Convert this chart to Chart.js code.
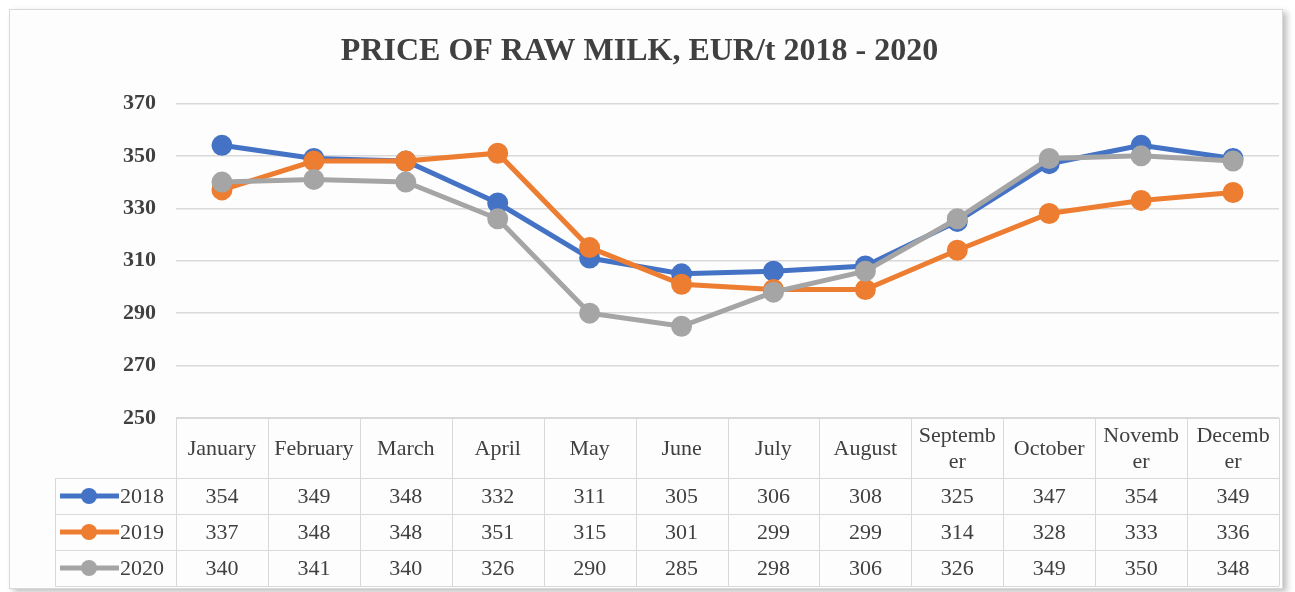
<!DOCTYPE html>
<html>
<head>
<meta charset="utf-8">
<script src="https://cdn.jsdelivr.net/npm/chart.js@4.4.1/dist/chart.umd.min.js"></script>
<style>
  body { margin: 0; background: #ffffff; }
  .wrap { position: relative; width: 1295px; height: 592px; overflow: hidden; }
  .frame {
    position: absolute; left: 9px; top: 9px; width: 1272px; height: 578px;
    border: 1px solid #d9d9d9; background: #fdfdfd;
    box-shadow: 4px 3px 6px rgba(0,0,0,0.25);
  }
  canvas { position: absolute; left: 0; top: 0; }
</style>
</head>
<body>
<div class="wrap">
  <div class="frame"></div>
  <canvas id="milkChart" width="1295" height="592"></canvas>
</div>
<script>
// Data
const months = ['January', 'February', 'March', 'April', 'May', 'June', 'July', 'August', 'September', 'October', 'November', 'December'];
const years = ['2018', '2019', '2020'];
const price2018 = [354, 349, 348, 332, 311, 305, 306, 308, 325, 347, 354, 349];
const price2019 = [337, 348, 348, 351, 315, 301, 299, 299, 314, 328, 333, 336];
const price2020 = [340, 341, 340, 326, 290, 285, 298, 306, 326, 349, 350, 348];
const yTicks = [250, 270, 290, 310, 330, 350, 370];

const colors = ['#4472C4', '#ED7D31', '#A5A5A5'];
const serif = "'Liberation Serif', 'Times New Roman', serif";
const textColor = '#404040';
const lineColor = '#d9d9d9';

// split a label into lines that fit in the cell (Excel style)
function wrapText(ctx, text, maxW) {
    const lines = [];
    let cur = '';
    for (const ch of text) {
        if (ctx.measureText(cur + ch).width > maxW && cur) {
            lines.push(cur);
            cur = ch;
        } else {
            cur += ch;
        }
    }
    lines.push(cur);
    return lines;
}

// Data table under the plot
const dataTable = {
    id: 'dataTable',
    afterDraw(chart) {
        const ctx = chart.ctx;
        const area = chart.chartArea;
        const xScale = chart.scales.x;
        const colW = area.width / months.length;
        const headTop = area.bottom;
        const headH = 60;
        const rowH = 36;
        const legendLeft = 55;
        const rows = chart.data.datasets;
        const tableBottom = headTop + headH + rowH * rows.length;

        ctx.save();
        ctx.strokeStyle = lineColor;
        ctx.lineWidth = 1;

        // horizontal lines
        ctx.beginPath();
        ctx.moveTo(area.left, headTop + 0.5);
        ctx.lineTo(area.right, headTop + 0.5);
        for (let r = 0; r <= rows.length; r++) {
            const y = Math.round(headTop + headH + r * rowH) + 0.5;
            ctx.moveTo(legendLeft, y);
            ctx.lineTo(area.right, y);
        }
        // vertical lines
        for (let c = 0; c <= months.length; c++) {
            const x = Math.round(area.left + c * colW) + 0.5;
            ctx.moveTo(x, headTop);
            ctx.lineTo(x, tableBottom);
        }
        ctx.moveTo(legendLeft + 0.5, headTop + headH);
        ctx.lineTo(legendLeft + 0.5, tableBottom);
        ctx.stroke();

        ctx.fillStyle = textColor;
        ctx.font = '22px ' + serif;
        ctx.textAlign = 'center';
        ctx.textBaseline = 'middle';

        // month header
        months.forEach((m, i) => {
            const x = xScale.getPixelForValue(i);
            const lines = wrapText(ctx, m, colW - 12);
            const lh = 26;
            const y0 = headTop + headH / 2 - (lines.length - 1) * lh / 2 + 1;
            lines.forEach((ln, k) => ctx.fillText(ln, x, y0 + k * lh));
        });

        // rows with legend key and values
        rows.forEach((ds, r) => {
            const yMid = headTop + headH + r * rowH + rowH / 2;
            ctx.strokeStyle = ds.borderColor;
            ctx.lineWidth = 5;
            ctx.beginPath();
            ctx.moveTo(60, yMid);
            ctx.lineTo(119, yMid);
            ctx.stroke();
            ctx.fillStyle = ds.borderColor;
            ctx.beginPath();
            ctx.arc(89, yMid, 8, 0, Math.PI * 2);
            ctx.fill();

            ctx.fillStyle = textColor;
            ctx.textAlign = 'left';
            ctx.fillText(ds.label, 120, yMid + 1);
            ctx.textAlign = 'center';
            ds.data.forEach((v, i) => {
                ctx.fillText(String(v), xScale.getPixelForValue(i), yMid + 1);
            });
        });
        ctx.restore();
    }
};

const seriesValues = [price2018, price2019, price2020];

new Chart(document.getElementById('milkChart'), {
    type: 'line',
    data: {
        labels: months,
        datasets: years.map((y, i) => ({
            label: y,
            data: seriesValues[i],
            borderColor: colors[i],
            backgroundColor: colors[i],
            pointBackgroundColor: colors[i],
            pointBorderColor: colors[i],
            borderWidth: 5,
            pointRadius: 8,
            tension: 0,
            order: years.length - i
        }))
    },
    options: {
        responsive: false,
        animation: false,
        layout: {
            padding: { left: 0, right: 16, top: 0, bottom: 174 }
        },
        plugins: {
            legend: { display: false },
            tooltip: { enabled: false },
            title: {
                display: true,
                text: 'PRICE OF RAW MILK, EUR/t 2018 - 2020',
                color: textColor,
                font: { family: serif, size: 32, weight: 'bold' },
                padding: { top: 33, bottom: 32 }
            }
        },
        scales: {
            x: {
                type: 'category',
                display: false,
                offset: true
            },
            y: {
                min: yTicks[0],
                max: yTicks[yTicks.length - 1],
                afterFit(scale) { scale.width = 176; },
                afterBuildTicks(scale) {
                    scale.ticks = yTicks.map(v => ({ value: v }));
                },
                border: { display: false },
                grid: { color: lineColor, lineWidth: 1.5, drawTicks: false },
                ticks: {
                    padding: 20,
                    color: textColor,
                    font: { family: serif, size: 22, weight: 'bold' }
                }
            }
        }
    },
    plugins: [dataTable]
});
</script>
</body>
</html>
